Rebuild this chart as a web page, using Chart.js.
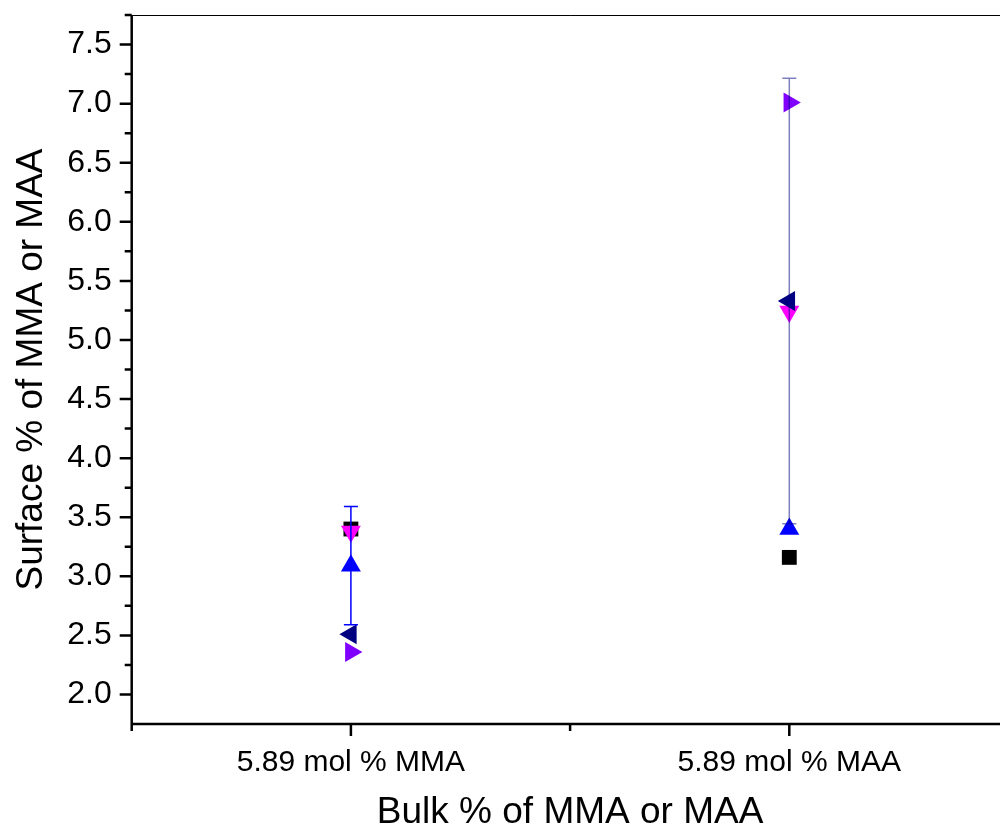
<!DOCTYPE html>
<html>
<head>
<meta charset="utf-8">
<script src="https://cdn.jsdelivr.net/npm/chart.js@4.4.1/dist/chart.umd.min.js"></script>
<style>
  html, body { margin: 0; padding: 0; background: #fff; overflow: hidden; }
  #wrap { width: 1020px; height: 838px; }
</style>
</head>
<body>
<div id="wrap"><canvas id="chart" width="1020" height="838"></canvas></div>
<script>
// data
const categories = ['5.89 mol % MMA', '5.89 mol % MAA'];
const squareVals = [3.40, 3.16];
const downVals = [3.38, 5.24];
const upVals = [3.09, 3.40];
const upErr = [0.50, 0];
const leftVals = [2.51, 5.33];
const leftErr = [0, 1.885];
const rightVals = [2.36, 7.01];

const yMajor = [2.0, 2.5, 3.0, 3.5, 4.0, 4.5, 5.0, 5.5, 6.0, 6.5, 7.0, 7.5];
const yMinor = [2.25, 2.75, 3.25, 3.75, 4.25, 4.75, 5.25, 5.75, 6.25, 6.75, 7.25, 7.75];
const yMin = 1.75, yMax = 7.75;

Chart.defaults.font.family = '"Liberation Sans", Arial, sans-serif';
Chart.defaults.color = '#000';

function series(data, style, rotation, color, radius, order, errors, errorColor) {
  return {
    data: data, showLine: false, pointStyle: style, rotation: rotation,
    pointRadius: radius, pointBackgroundColor: color, pointBorderWidth: 0,
    order: order, errors: errors, errorColor: errorColor, clip: false
  };
}

// error bars + Origin-style axis frame
const frame = {
  id: 'frame',
  afterDatasetsDraw(chart) {
    const {ctx, scales: {x, y}} = chart;
    chart.data.datasets.forEach(ds => {
      if (!ds.errors) return;
      ds.data.forEach((v, i) => {
        const e = ds.errors[i];
        if (!e) return;
        const px = x.getPixelForValue(i);
        const top = y.getPixelForValue(v + e), bot = y.getPixelForValue(v - e);
        ctx.save();
        ctx.strokeStyle = ds.errorColor;
        ctx.lineWidth = 1.5;
        ctx.beginPath();
        ctx.moveTo(px, top); ctx.lineTo(px, bot);
        ctx.moveTo(px - 7, top); ctx.lineTo(px + 7, top);
        ctx.moveTo(px - 7, bot); ctx.lineTo(px + 7, bot);
        ctx.stroke();
        ctx.restore();
      });
    });
  },
  afterDraw(chart) {
    const {ctx, chartArea: a, scales: {x, y}} = chart;
    ctx.save();
    ctx.strokeStyle = '#000';
    // thin top/right frame
    ctx.lineWidth = 1;
    ctx.beginPath();
    ctx.moveTo(a.left, a.top + 0.5); ctx.lineTo(a.right, a.top + 0.5); ctx.lineTo(a.right, a.bottom);
    ctx.stroke();
    ctx.lineWidth = 2.5;
    ctx.beginPath();
    ctx.moveTo(a.left, a.top); ctx.lineTo(a.left, a.bottom + 5);
    ctx.moveTo(a.left - 1, a.bottom); ctx.lineTo(a.right, a.bottom);
    yMajor.forEach(v => { const p = y.getPixelForValue(v); ctx.moveTo(a.left, p); ctx.lineTo(a.left - 12, p); });
    yMinor.forEach(v => { const p = y.getPixelForValue(v); ctx.moveTo(a.left, p); ctx.lineTo(a.left - 7, p); });
    categories.forEach((c, i) => {
      const p = x.getPixelForValue(i);
      ctx.moveTo(p, a.bottom); ctx.lineTo(p, a.bottom + 12);
    });
    for (let i = -0.5; i <= categories.length - 0.5; i++) {
      const p = x.getPixelForValue(i);
      ctx.moveTo(p, a.bottom); ctx.lineTo(p, a.bottom + 7);
    }
    ctx.stroke();
    ctx.restore();
  }
};

new Chart(document.getElementById('chart'), {
  type: 'line',
  data: {
    labels: categories,
    datasets: [
      series(squareVals, 'rect', 0, '#000000', 10.5, 5),
      series(downVals, 'triangle', 180, '#ff00ff', 11.5, 4),
      series(upVals, 'triangle', 0, '#0000ff', 11.5, 3, upErr, '#0000ff'),
      series(leftVals, 'triangle', 270, '#000080', 11.5, 2, leftErr, 'rgba(0,0,128,0.5)'),
      series(rightVals, 'triangle', 90, '#8000ff', 11.5, 1)
    ]
  },
  options: {
    responsive: false,
    animation: false,
    events: [],
    layout: { padding: { top: 15, right: 8, left: 0, bottom: 0 } },
    plugins: { legend: { display: false }, tooltip: { enabled: false } },
    scales: {
      x: {
        type: 'category',
        offset: true,
        grid: { display: true, drawOnChartArea: false, drawTicks: true, tickLength: 12, tickColor: 'rgba(0,0,0,0)' },
        border: { display: false },
        ticks: { font: { size: 30 }, padding: 9, maxRotation: 0, autoSkip: false },
        title: { display: true, text: 'Bulk % of MMA or MAA', font: { size: 37 }, padding: { top: 0, bottom: 3 } },
        afterFit(s) { s.height = 114; s.paddingLeft = 0; s.paddingRight = 0; }
      },
      y: {
        min: yMin, max: yMax,
        afterBuildTicks(s) { s.ticks = yMajor.map(v => ({ value: v })); },
        grid: { display: true, drawOnChartArea: false, drawTicks: true, tickLength: 12, tickColor: 'rgba(0,0,0,0)' },
        border: { display: false },
        ticks: { font: { size: 32 }, padding: 8, callback: v => Number(v).toFixed(1) },
        title: { display: true, text: 'Surface % of MMA or MAA', font: { size: 37 }, padding: { top: 10, bottom: 0 } },
        afterFit(s) { s.width = 131.7; s.paddingTop = 0; s.paddingBottom = 0; }
      }
    }
  },
  plugins: [frame]
});
</script>
</body>
</html>
